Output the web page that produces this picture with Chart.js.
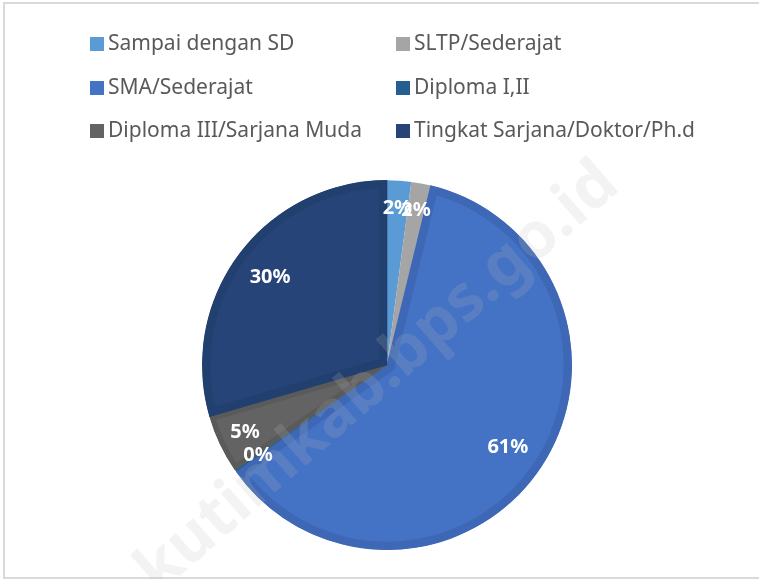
<!DOCTYPE html>
<html>
<head>
<meta charset="utf-8">
<script src="https://cdn.jsdelivr.net/npm/chart.js@4.4.0/dist/chart.umd.min.js"></script>
<style>
  html, body { margin: 0; padding: 0; background: #fff; }
  #wrap { position: relative; width: 759px; height: 579px; overflow: hidden; }
  #frame { position: absolute; left: 3px; top: 2px; width: 800px; height: 573px;
           border: 2px solid #d9d9d9; box-sizing: content-box; }
  #myChart { position: absolute; left: 0; top: 0; }
  .lg { position: absolute; font-family: "Noto Sans", sans-serif; font-size: 21px;
        color: #595959; white-space: nowrap; line-height: 24px; }
  .lg span { display: inline-block; width: 14px; height: 14px; margin-right: 4px;
             vertical-align: -1px; }
</style>
</head>
<body>
<div id="wrap">
  <div id="frame"></div>
  <canvas id="myChart" width="759" height="579"></canvas>
</div>
<script>
const labels = ['Sampai dengan SD', 'SLTP/Sederajat', 'SMA/Sederajat', 'Diploma I,II',
  'Diploma III/Sarjana Muda', 'Tingkat Sarjana/Doktor/Ph.d'];
const persen = [2.1, 1.7, 61.4, 0.2, 5.1, 29.5];
const warna = ['#5B9BD5', '#A5A5A5', '#4472C4', '#255E91', '#636363', '#264478'];
const tepi = ['#5B9BD5', '#A5A5A5', '#3E68B5', '#255E91', '#5A5A5A', '#22406F'];

// legend 2 kolom
const wrap = document.getElementById('wrap');
labels.forEach((l, i) => {
  let d = document.createElement('div');
  d.className = 'lg';
  d.style.left = (i % 2 === 0 ? 90 : 396) + 'px';
  d.style.top = (30 + Math.floor(i / 2) * 43.5) + 'px';
  d.innerHTML = '<span style="background:' + warna[i] + '"></span>' + l;
  wrap.appendChild(d);
});

const labelPlugin = {
  id: 'pieLabels',
  afterDatasetsDraw(chart) {
    const ctx = chart.ctx;
    const meta = chart.getDatasetMeta(0);
    const total = persen.reduce((a, b) => a + b, 0);
    ctx.save();
    ctx.font = 'bold 20px "Noto Sans", sans-serif';
    ctx.fillStyle = '#ffffff';
    ctx.textAlign = 'center';
    ctx.textBaseline = 'middle';
    meta.data.forEach((arc, i) => {
      const mid = (arc.startAngle + arc.endAngle) / 2;
      const r = arc.outerRadius * (persen[i] < 10 ? 0.85 : 0.79);
      const x = arc.x + Math.cos(mid) * r;
      const y = arc.y + Math.sin(mid) * r;
      ctx.fillText(Math.round(persen[i] / total * 100) + '%', x, y);
    });
    ctx.restore();
  },
  afterDraw(chart) {
    // watermark
    const ctx = chart.ctx;
    ctx.save();
    ctx.translate(378, 378);
    ctx.rotate(-0.72);
    ctx.font = 'bold 64px "Noto Sans", sans-serif';
    ctx.textAlign = 'center';
    ctx.textBaseline = 'middle';
    ctx.fillStyle = 'rgba(190,190,190,0.18)';
    ctx.fillText('kutimkab.bps.go.id', 0, 0);
    ctx.restore();
  }
};

new Chart(document.getElementById('myChart'), {
  type: 'pie',
  data: {
    labels: labels,
    datasets: [{
      data: persen,
      backgroundColor: warna,
      borderColor: tepi,
      borderWidth: [0, 0, 8, 0, 5, 8],
      borderAlign: 'inner'
    }]
  },
  options: {
    responsive: false,
    animation: false,
    layout: { padding: { left: 202, right: 187, top: 180, bottom: 29 } },
    plugins: {
      legend: { display: false },
      tooltip: { enabled: false }
    }
  },
  plugins: [labelPlugin]
});
</script>
</body>
</html>
